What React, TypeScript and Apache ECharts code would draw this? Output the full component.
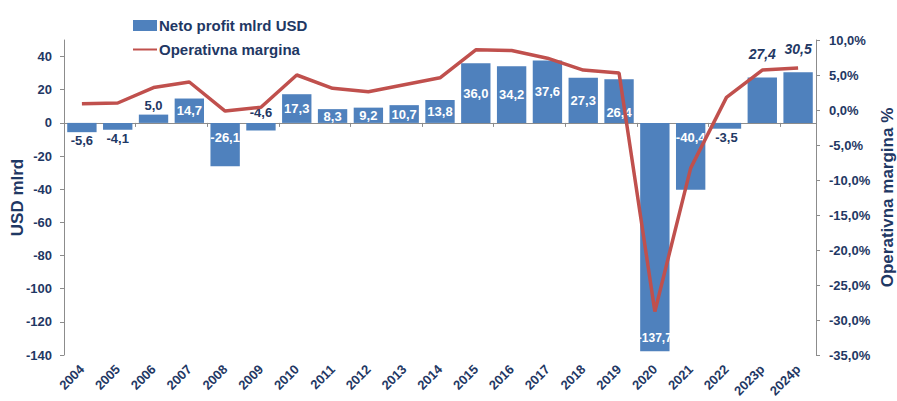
import React, { useEffect, useRef } from "react";
import * as echarts from "echarts";

const categories = ["2004","2005","2006","2007","2008","2009","2010","2011","2012","2013","2014","2015","2016","2017","2018","2019","2020","2021","2022","2023p","2024p"];
const netProfit = [-5.6,-4.1,5.0,14.7,-26.1,-4.6,17.3,8.3,9.2,10.7,13.8,36.0,34.2,37.6,27.3,26.4,-137.7,-40.4,-3.5,27.4,30.5];
const operatingMargin = [0.9,1.0,3.2,4.0,-0.15,0.4,5.0,3.1,2.6,3.6,4.6,8.6,8.5,7.4,5.7,5.3,-28.8,-8.3,1.8,5.7,6.0];

const NAVY = "#1F3864";
const FONT = "'Liberation Sans', Arial, sans-serif";
const fmt = (v: number) => v.toFixed(1).replace(".", ",");

function labelFor(cat: string, v: number): any {
  const base = { show: true, fontFamily: FONT, fontWeight: "bold", fontSize: 13, overflow: "none", formatter: fmt(v) };
  if (cat.endsWith("p")) return { ...base, position: "top", distance: 16, color: NAVY, fontStyle: "italic", fontSize: 14 };
  if (cat === "2019") return { ...base, position: "inside", offset: [0, 11], color: "#fff" };
  if (cat === "2009") return { ...base, position: "top", distance: 4, color: NAVY };
  if (cat === "2008" || cat === "2021") return { ...base, position: "insideTop", distance: 8, color: "#fff" };
  if (cat === "2020") return { ...base, position: "insideBottom", distance: 7, color: "#fff", fontSize: 12 };
  if (v < 0) return { ...base, position: "bottom", distance: 2, color: NAVY };
  if (v < 7) return { ...base, position: "top", distance: 3, color: NAVY };
  return { ...base, position: "inside", color: "#fff" };
}

export default function App() {
  const ref = useRef<HTMLDivElement>(null);
  useEffect(() => {
    if (!ref.current) return;
    const chart = echarts.init(ref.current, null, { renderer: "svg" });
    const axisText = { color: NAVY, fontFamily: FONT, fontWeight: "bold" as const, fontSize: 13 };
    chart.setOption({
      animation: false,
      textStyle: { fontFamily: FONT },
      legend: {
        orient: "vertical",
        left: 127,
        top: 13,
        itemWidth: 24,
        itemHeight: 11,
        itemGap: 9,
        textStyle: { color: NAVY, fontFamily: FONT, fontWeight: "bold", fontSize: 15, padding: [0, 0, 0, -3] },
        data: [
          { name: "Neto profit mlrd USD", icon: "rect" },
          { name: "Operativna margina", itemStyle: { opacity: 0 } },
        ],
      },
      grid: { left: 64, right: 81, top: 40, bottom: 46, containLabel: false, outerBoundsMode: "none" },
      xAxis: [
        {
          type: "category",
          data: categories,
          position: "bottom",
          axisLine: { show: false, onZero: false },
          axisTick: { show: false },
          axisLabel: { ...axisText, fontSize: 13, rotate: 45, margin: 12, interval: 0 },
        },
        {
          type: "category",
          data: categories,
          position: "bottom",
          axisLine: { show: true, onZero: true, lineStyle: { color: "#8C8C8C", width: 1 } },
          axisTick: { show: true, length: 4, lineStyle: { color: "#8C8C8C" } },
          axisLabel: { show: false },
        },
      ],
      yAxis: [
        {
          type: "value",
          min: -140,
          max: 50,
          interval: 20,
          name: "USD mlrd",
          nameLocation: "middle",
          nameGap: 38,
          nameMoveOverlap: false,
          nameTextStyle: { color: NAVY, fontFamily: FONT, fontWeight: "bold", fontSize: 17 },
          splitLine: { show: false },
          axisLine: { show: true, lineStyle: { color: "#8C8C8C" } },
          axisTick: { show: true, length: 4, lineStyle: { color: "#8C8C8C" } },
          axisLabel: { ...axisText, margin: 12, showMaxLabel: false, formatter: (v: number) => (v === 50 ? "" : String(v)) },
        },
        {
          type: "value",
          min: -35,
          max: 10,
          interval: 5,
          name: "Operativna margina %",
          nameLocation: "middle",
          nameGap: 63,
          nameRotate: 90,
          nameMoveOverlap: false,
          nameTextStyle: { color: NAVY, fontFamily: FONT, fontWeight: "bold", fontSize: 17 },
          splitLine: { show: false },
          axisLine: { show: true, lineStyle: { color: "#8C8C8C" } },
          axisTick: { show: true, length: 4, lineStyle: { color: "#8C8C8C" } },
          axisLabel: { ...axisText, margin: 13, formatter: (v: number) => fmt(v) + "%" },
        },
      ],
      series: [
        {
          name: "Neto profit mlrd USD",
          type: "bar",
          xAxisIndex: 0,
          yAxisIndex: 0,
          barCategoryGap: "18%",
          itemStyle: { color: "#4F81BD" },
          data: netProfit.map((v, i) => ({ value: v, label: labelFor(categories[i], v) })),
          z: 2,
        },
        {
          name: "Operativna margina",
          type: "line",
          xAxisIndex: 0,
          yAxisIndex: 1,
          symbol: "none",
          lineStyle: { color: "#C0504D", width: 3.5 },
          itemStyle: { color: "#C0504D" },
          data: operatingMargin,
          z: 3,
        },
      ],
    });
    return () => chart.dispose();
  }, []);
  return <div ref={ref} style={{ width: 897, height: 401, position: "absolute", left: 0, top: 0 }} />;
}
